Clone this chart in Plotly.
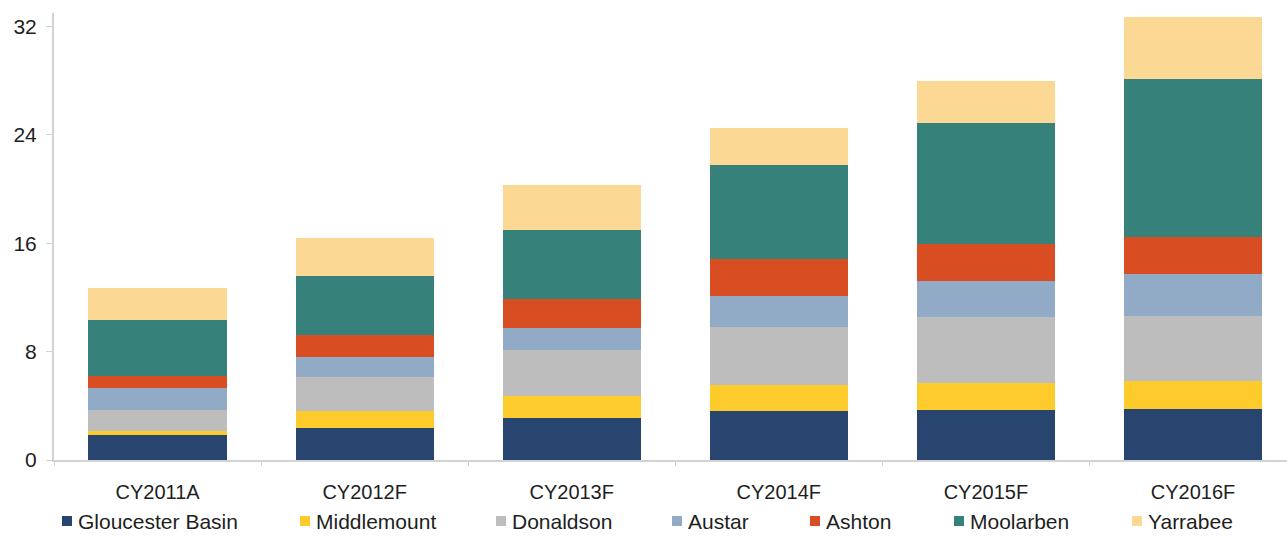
import plotly.graph_objects as go

# Coal production by mine, Mt
years = ["CY2011A", "CY2012F", "CY2013F", "CY2014F", "CY2015F", "CY2016F"]

gloucester_basin = [1.81, 2.37, 3.11, 3.60, 3.67, 3.78]
middlemount = [0.31, 1.23, 1.65, 1.97, 2.02, 2.08]
donaldson = [1.55, 2.54, 3.39, 4.25, 4.87, 4.80]
austar = [1.65, 1.47, 1.60, 2.31, 2.63, 3.07]
ashton = [0.91, 1.65, 2.14, 2.71, 2.78, 2.73]
moolarben = [4.08, 4.35, 5.11, 6.95, 8.94, 11.65]
yarrabee = [2.39, 2.80, 3.27, 2.73, 3.10, 4.62]

y_ticks = [0, 8, 16, 24, 32]

series = [
    ("Gloucester Basin", gloucester_basin, "#27456F"),
    ("Middlemount", middlemount, "#FDCB2B"),
    ("Donaldson", donaldson, "#BDBDBD"),
    ("Austar", austar, "#91AAC6"),
    ("Ashton", ashton, "#D84D22"),
    ("Moolarben", moolarben, "#36827A"),
    ("Yarrabee", yarrabee, "#FCD895"),
]

W, H = 1287, 538
M_L, M_R, M_T, M_B = 54, 0, 13, 78
PLOT_W = W - M_L - M_R
PLOT_H = H - M_T - M_B

FONT = "Arial, Liberation Sans, sans-serif"
TEXT = "#1e1e1e"
AXIS = "#d2d2d2"

fig = go.Figure()
for name, vals, color in series:
    fig.add_trace(go.Bar(
        x=years, y=vals, name=name,
        marker=dict(color=color, line=dict(width=0)),
        showlegend=False,
    ))

# Legend row drawn as coloured squares + labels (pixel positions in the page)
legend_marker_px = [62, 300, 496, 672, 810, 954, 1132]
legend_y_px = 521
sq = 10


def px_to_paper_x(px):
    return (px - M_L) / PLOT_W


def px_to_paper_y(py):
    return (H - M_B - py) / PLOT_H


shapes = []
annotations = []
for (name, _, color), mx in zip(series, legend_marker_px):
    shapes.append(dict(
        type="rect", xref="paper", yref="paper",
        x0=px_to_paper_x(mx), x1=px_to_paper_x(mx + sq),
        y0=px_to_paper_y(legend_y_px + sq / 2), y1=px_to_paper_y(legend_y_px - sq / 2),
        fillcolor=color, line=dict(width=0),
    ))
    annotations.append(dict(
        xref="paper", yref="paper",
        x=px_to_paper_x(mx + sq + 4), y=px_to_paper_y(legend_y_px),
        xanchor="left", yanchor="middle",
        text=name, showarrow=False,
        font=dict(family=FONT, size=21, color=TEXT),
    ))

fig.update_layout(
    barmode="stack",
    bargap=0.333,
    width=W, height=H,
    margin=dict(l=M_L, r=M_R, t=M_T, b=M_B, pad=0),
    paper_bgcolor="white",
    plot_bgcolor="white",
    font=dict(family=FONT, size=20, color=TEXT),
    shapes=shapes,
    annotations=annotations,
    xaxis=dict(
        range=[-0.5, 5.454],
        showline=True, linecolor=AXIS, linewidth=2,
        ticks="outside", tickson="boundaries", ticklen=4, tickcolor=AXIS,
        showgrid=False, zeroline=False,
        tickfont=dict(family=FONT, size=20, color=TEXT),
        ticklabelstandoff=13,
    ),
    yaxis=dict(
        range=[0, 33],
        tickvals=y_ticks,
        showline=True, linecolor=AXIS, linewidth=2,
        ticks="outside", ticklen=6, tickcolor=AXIS,
        showgrid=False, zeroline=False,
        tickfont=dict(family=FONT, size=21, color=TEXT),
        ticklabelstandoff=5,
    ),
)

fig.write_html("out.html")
